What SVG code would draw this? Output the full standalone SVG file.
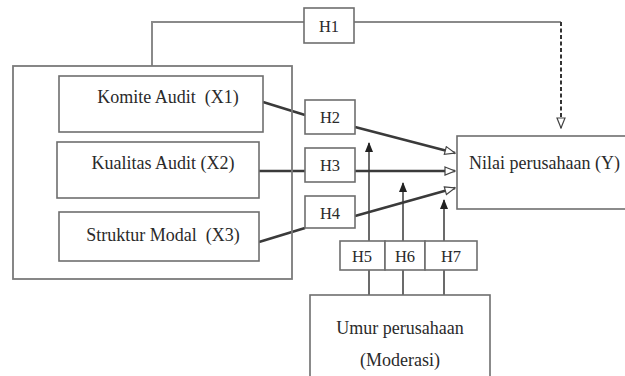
<svg xmlns="http://www.w3.org/2000/svg" width="625" height="376" viewBox="0 0 625 376">
<defs>
<style>
.box{fill:#fff;stroke:#6e6e6e;stroke-width:1.6}
.outer{fill:none;stroke:#7a7a7a;stroke-width:1.8}
.t{font-family:"Liberation Serif","Times New Roman",serif;font-size:18px;fill:#2a2a2a}
.h{font-family:"Liberation Serif","Times New Roman",serif;font-size:16.5px;fill:#2a2a2a;text-anchor:middle}
.gray{fill:none;stroke:#8a8a8a;stroke-width:2}
.thick{fill:none;stroke:#3a3a3a;stroke-width:2.6}
.thin{fill:none;stroke:#3a3a3a;stroke-width:1.5}
.dash{fill:none;stroke:#333;stroke-width:2;stroke-dasharray:4 2.5}
</style>
<marker id="open" markerUnits="userSpaceOnUse" markerWidth="12" markerHeight="10" viewBox="0 0 12 10" refX="11" refY="5" orient="auto">
<path d="M1,1 L11,5 L1,9 Z" fill="#fff" stroke="#444" stroke-width="1.2"/>
</marker>
<marker id="solid" markerUnits="userSpaceOnUse" markerWidth="10" markerHeight="10" viewBox="0 0 10 10" refX="9" refY="5" orient="auto">
<path d="M0,1 L10,5 L0,9 Z" fill="#222"/>
</marker>
</defs>
<rect width="625" height="376" fill="#fff"/>

<g id="connectors">
<polyline class="gray" points="152,66 152,22 304,22"/>
<line class="gray" x1="354" y1="22" x2="561" y2="22"/>
<line class="dash" x1="561" y1="22" x2="561" y2="128" marker-end="url(#open)"/>
<line class="thick" x1="263" y1="102" x2="305" y2="115"/>
<line class="thick" x1="259" y1="171" x2="305" y2="171"/>
<line class="thick" x1="259" y1="242" x2="305" y2="228"/>
<line class="thick" x1="355" y1="127" x2="455" y2="153" marker-end="url(#open)"/>
<line class="thick" x1="355" y1="171" x2="455" y2="171" marker-end="url(#open)"/>
<line class="thick" x1="355" y1="216" x2="455" y2="188" marker-end="url(#open)"/>
<line class="thin" x1="369" y1="295" x2="369" y2="143" marker-end="url(#solid)"/>
<line class="thin" x1="403" y1="295" x2="403" y2="183" marker-end="url(#solid)"/>
<line class="thin" x1="444" y1="295" x2="444" y2="200" marker-end="url(#solid)"/>
</g>

<g id="group-x">
<rect class="outer" x="13" y="66" width="279" height="213"/>
</g>
<g id="x1">
<rect class="box" x="59" y="76" width="204" height="56"/>
<text class="t" x="168" y="103" text-anchor="middle">Komite Audit&#160; (X1)</text>
</g>
<g id="x2">
<rect class="box" x="57" y="142" width="202" height="56"/>
<text class="t" x="163" y="169" text-anchor="middle">Kualitas Audit (X2)</text>
</g>
<g id="x3">
<rect class="box" x="59" y="212" width="200" height="49"/>
<text class="t" x="163" y="241" text-anchor="middle">Struktur Modal&#160; (X3)</text>
</g>
<g id="h1">
<rect class="box" x="304" y="8" width="50" height="35"/>
<text class="h" x="329" y="32">H1</text>
</g>
<g id="h2">
<rect class="box" x="305" y="100" width="50" height="34"/>
<text class="h" x="330" y="123">H2</text>
</g>
<g id="h3">
<rect class="box" x="305" y="148" width="50" height="34"/>
<text class="h" x="330" y="171">H3</text>
</g>
<g id="h4">
<rect class="box" x="305" y="196" width="50" height="32"/>
<text class="h" x="330" y="219">H4</text>
</g>
<g id="h5">
<rect class="box" x="340" y="241" width="45" height="29"/>
<text class="h" x="362" y="262">H5</text>
</g>
<g id="h6">
<rect class="box" x="385" y="241" width="40" height="29"/>
<text class="h" x="405" y="262">H6</text>
</g>
<g id="h7">
<rect class="box" x="425" y="241" width="52" height="29"/>
<text class="h" x="451" y="262">H7</text>
</g>
<g id="y">
<rect class="box" x="457" y="136" width="175" height="73"/>
<text class="t" x="469" y="169">Nilai perusahaan (Y)</text>
</g>
<g id="moderasi">
<rect class="box" x="310" y="295" width="180" height="90"/>
<text class="t" x="400" y="334" text-anchor="middle">Umur perusahaan</text>
<text class="t" x="400" y="366" text-anchor="middle">(Moderasi)</text>
</g>
</svg>
